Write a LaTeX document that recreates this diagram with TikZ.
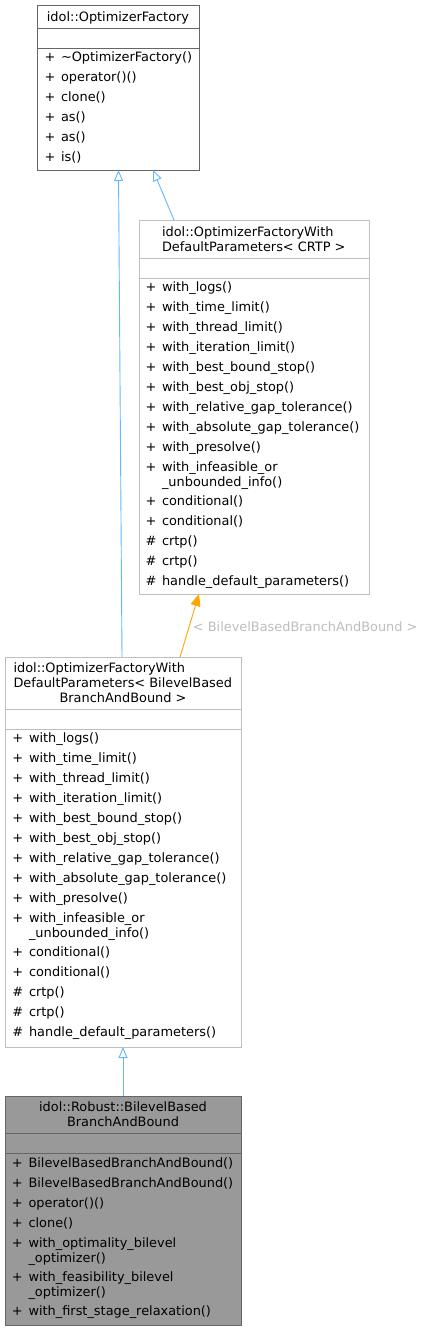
\documentclass[tikz,border=0pt]{standalone}
\usepackage{fontspec}
\setmainfont{DejaVu Sans}
\usetikzlibrary{arrows.meta}
\definecolor{edgeblue}{HTML}{63B8FF}
\definecolor{edgeorange}{HTML}{FFA500}
\definecolor{darkborder}{HTML}{666666}
\definecolor{lightborder}{HTML}{BFBFBF}
\definecolor{boxfill}{HTML}{999999}
\definecolor{labelgrey}{HTML}{BEBEBE}
\newcommand\mrow[5]{%
  \node[txt] (#5s) at (#1,#2+4.5) {#3};
  \node[txt] (#5m) at (#1+16.5,#2+4.5) {#4};}
\newcommand\mcont[4]{\node[txt] (#4) at (#1+16.5,#2+4.5) {#3};}
\begin{document}
\begin{tikzpicture}[x=1pt,y=-1pt,
  txt/.style={anchor=base west, inner sep=0pt, outer sep=0pt, font=\fontsize{12.9}{15}\selectfont},
  ctxt/.style={anchor=base, inner sep=0pt, outer sep=0pt, font=\fontsize{12.9}{15}\selectfont},
  classbox/.style={draw, line width=0.9pt, anchor=north west, inner sep=0pt, outer sep=0pt},
  inh/.style={draw=edgeblue, line width=0.9pt, -{Triangle[open, length=11pt, width=9pt, fill=white]}},
  tmpl/.style={draw=edgeorange, line width=0.9pt, -{Triangle[length=12pt, width=10pt]}, edgeorange},
]
\useasboundingbox (0,0) rectangle (425,1331);
\fill[white] (0,0) rectangle (425,1331);

% Box 1: OptimizerFactory
\node[classbox, draw=darkborder, fill=white, minimum width=162pt, minimum height=165pt] (of) at (37,5) {};
\draw[darkborder, line width=0.9pt] (of.west |- 0,28) -- (of.east |- 0,28);
\draw[darkborder, line width=0.9pt] (of.west |- 0,48) -- (of.east |- 0,48);
\node[ctxt] (oft) at (118,17+4.5) {idol::OptimizerFactory};
\mrow{44.5}{57}{+}{\textasciitilde OptimizerFactory()}{ofa}
\mrow{44.5}{77}{+}{operator()()}{ofb}
\mrow{44.5}{97}{+}{clone()}{ofc}
\mrow{44.5}{117}{+}{as()}{ofd}
\mrow{44.5}{137}{+}{as()}{ofe}
\mrow{44.5}{157}{+}{is()}{off}

% Box 2: OptimizerFactoryWithDefaultParameters< CRTP >
\node[classbox, draw=lightborder, fill=white, minimum width=230pt, minimum height=374pt] (p2) at (139,220) {};
\draw[lightborder, line width=0.9pt] (p2.west |- 0,258) -- (p2.east |- 0,258);
\draw[lightborder, line width=0.9pt] (p2.west |- 0,278) -- (p2.east |- 0,278);
\node[txt] (p2t1) at (162,232+4.5) {idol::OptimizerFactoryWith};
\node[txt] (p2t2) at (162,247+4.5) {DefaultParameters< CRTP >};
\mrow{145.5}{287}{+}{with\_logs()}{pa}
\mrow{145.5}{307}{+}{with\_time\_limit()}{pb}
\mrow{145.5}{327}{+}{with\_thread\_limit()}{pc}
\mrow{145.5}{347}{+}{with\_iteration\_limit()}{pd}
\mrow{145.5}{367}{+}{with\_best\_bound\_stop()}{pe}
\mrow{145.5}{387}{+}{with\_best\_obj\_stop()}{pf}
\mrow{145.5}{407}{+}{with\_relative\_gap\_tolerance()}{pg}
\mrow{145.5}{427}{+}{with\_absolute\_gap\_tolerance()}{ph}
\mrow{145.5}{447}{+}{with\_presolve()}{pi}
\mrow{145.5}{467}{+}{with\_infeasible\_or}{pj}
\mcont{145.5}{481.5}{\_unbounded\_info()}{pjc}
\mrow{145.5}{501}{+}{conditional()}{pk}
\mrow{145.5}{521}{+}{conditional()}{pl}
\mrow{145.5}{541}{\#}{crtp()}{pm}
\mrow{145.5}{561}{\#}{crtp()}{pn}
\mrow{145.5}{581}{\#}{handle\_default\_parameters()}{po}

% Box 3: OptimizerFactoryWithDefaultParameters< BilevelBasedBranchAndBound >
\node[classbox, draw=lightborder, fill=white, minimum width=236pt, minimum height=390pt] (b3) at (5,657) {};
\draw[lightborder, line width=0.9pt] (b3.west |- 0,709) -- (b3.east |- 0,709);
\draw[lightborder, line width=0.9pt] (b3.west |- 0,729) -- (b3.east |- 0,729);
\node[txt] (b3t1) at (13.5,668+4.5) {idol::OptimizerFactoryWith};
\node[txt] (b3t2) at (13.5,683+4.5) {DefaultParameters< BilevelBased};
\node[ctxt] (b3t3) at (123,698+4.5) {BranchAndBound >};
\mrow{12.5}{738}{+}{with\_logs()}{qa}
\mrow{12.5}{758}{+}{with\_time\_limit()}{qb}
\mrow{12.5}{778}{+}{with\_thread\_limit()}{qc}
\mrow{12.5}{798}{+}{with\_iteration\_limit()}{qd}
\mrow{12.5}{818}{+}{with\_best\_bound\_stop()}{qe}
\mrow{12.5}{838}{+}{with\_best\_obj\_stop()}{qf}
\mrow{12.5}{858}{+}{with\_relative\_gap\_tolerance()}{qg}
\mrow{12.5}{878}{+}{with\_absolute\_gap\_tolerance()}{qh}
\mrow{12.5}{898}{+}{with\_presolve()}{qi}
\mrow{12.5}{918}{+}{with\_infeasible\_or}{qj}
\mcont{12.5}{932.5}{\_unbounded\_info()}{qjc}
\mrow{12.5}{952}{+}{conditional()}{qk}
\mrow{12.5}{972}{+}{conditional()}{ql}
\mrow{12.5}{992}{\#}{crtp()}{qm}
\mrow{12.5}{1012}{\#}{crtp()}{qn}
\mrow{12.5}{1032}{\#}{handle\_default\_parameters()}{qo}

% Box 4: idol::Robust::BilevelBasedBranchAndBound
\node[classbox, draw=darkborder, fill=boxfill, minimum width=236pt, minimum height=229pt] (b4) at (5,1096) {};
\draw[darkborder, line width=0.9pt] (b4.west |- 0,1133) -- (b4.east |- 0,1133);
\draw[darkborder, line width=0.9pt] (b4.west |- 0,1153) -- (b4.east |- 0,1153);
\node[ctxt] (b4t1) at (123,1107+4.5) {idol::Robust::BilevelBased};
\node[ctxt] (b4t2) at (123,1122+4.5) {BranchAndBound};
\mrow{12}{1163}{+}{BilevelBasedBranchAndBound()}{ra}
\mrow{12}{1183}{+}{BilevelBasedBranchAndBound()}{rb}
\mrow{12}{1203}{+}{operator()()}{rc}
\mrow{12}{1223}{+}{clone()}{rd}
\mrow{12}{1243}{+}{with\_optimality\_bilevel}{re}
\mcont{12}{1257.5}{\_optimizer()}{rec}
\mrow{12}{1277}{+}{with\_feasibility\_bilevel}{rf}
\mcont{12}{1291.5}{\_optimizer()}{rfc}
\mrow{12}{1311}{+}{with\_first\_stage\_relaxation()}{rg}

% Edges
\draw[inh] ([xshift=-1pt]b3.north) -- ([xshift=0.5pt]of.south);
\draw[inh] ([xshift=-80pt]p2.north) -- ([xshift=35pt]of.south);
\draw[tmpl] ([xshift=57pt]b3.north) -- ([xshift=-55pt]p2.south)
  node[pos=0.5, anchor=west, inner sep=0pt, xshift=3pt, yshift=-1pt, text=labelgrey, font=\fontsize{12.9}{15}\selectfont] (lbl) {< BilevelBasedBranchAndBound >};
\draw[inh] (b4.north) -- (b3.south);
\end{tikzpicture}
\end{document}
